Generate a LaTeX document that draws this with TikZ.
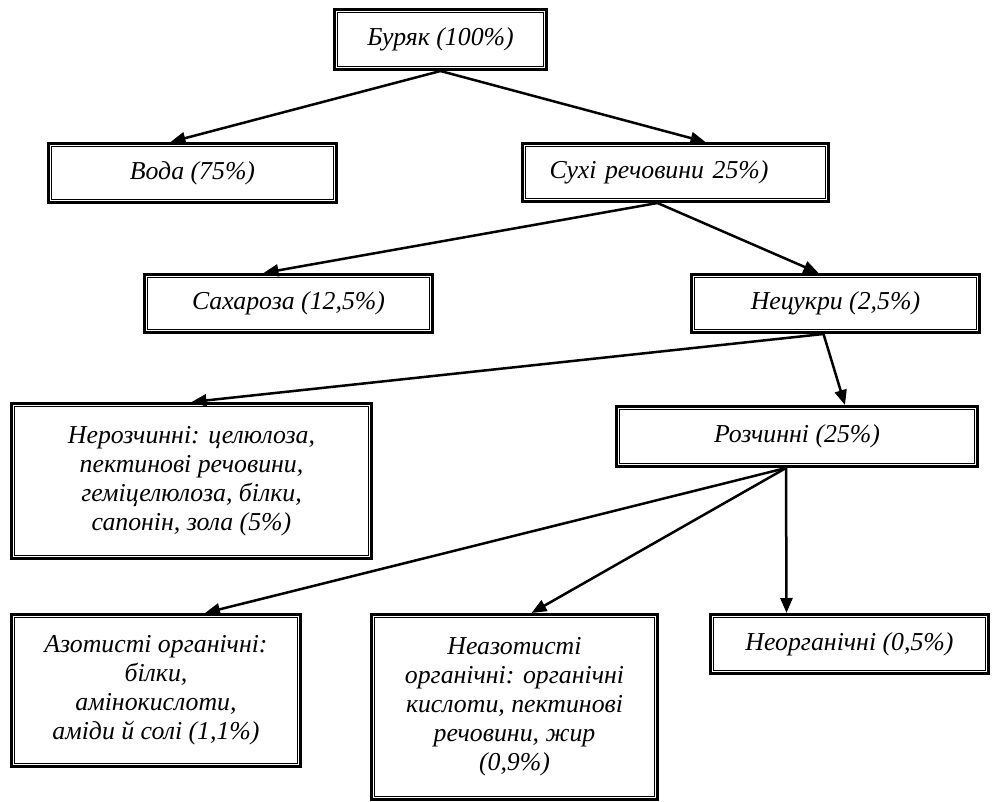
\documentclass[tikz,border=0pt]{standalone}
\usepackage{fontspec}
\setmainfont{Liberation Serif}
\usetikzlibrary{arrows.meta}
\tikzset{every picture/.style={line width=0.75pt}}

\begin{document}
\begin{tikzpicture}[x=1pt,y=-1pt,
  box/.style={draw,line width=3pt,align=center,inner sep=0pt,
    font=\fontsize{25.8}{29}\selectfont\itshape},
  inbox/.style={line width=1.5pt},
  arr/.style={-{Triangle[length=15pt,width=12pt]},line width=2.5pt}]
\useasboundingbox (0,0) rectangle (992,802);
% level 0
\node[box,minimum width=212,minimum height=60] (beet) at (440.5,39.5) {Буряк (100\%)};
% level 1
\node[box,minimum width=288,minimum height=59] (water) at (192.5,173) {Вода (75\%)};
\node[box,text width=252,align=left,inner xsep=27pt,minimum height=58] (dry) at (675.5,172.5) {Сухі речовини 25\%)};
% level 2
\node[box,minimum width=288,minimum height=58] (sucrose) at (288.5,303.5) {Сахароза (12,5\%)};
\node[box,minimum width=288,minimum height=58] (nonsugar) at (835.5,303.5) {Нецукри (2,5\%)};
% level 3
\node[box,minimum width=360,minimum height=155] (insol) at (191.5,481) {Нерозчинні: целюлоза,\\ пектинові речовини,\\ геміцелюлоза, білки,\\ сапонін, зола (5\%)};
\node[box,minimum width=361,minimum height=60] (sol) at (797,436.5) {Розчинні (25\%)};
% level 4
\node[box,minimum width=289,minimum height=152] (nitro) at (156,690.5) {Азотисті органічні:\\ білки,\\ амінокислоти,\\ аміди й солі (1,1\%)};
\node[box,minimum width=286,minimum height=185] (nonnitro) at (514.5,707) {Неазотисті\\ органічні: органічні\\ кислоти, пектинові\\ речовини, жир\\ (0,9\%)};
\node[box,minimum width=278,minimum height=59] (inorg) at (849.5,644) {Неорганічні (0,5\%)};
%
\foreach \n in {beet,water,dry,sucrose,nonsugar,insol,sol,nitro,nonnitro,inorg}
  \draw[inbox] ([shift={(4.7,4.7)}]\n.north west) rectangle ([shift={(-4.7,-4.7)}]\n.south east);
%
\draw[arr] (beet.south) -- ([xshift=-22]water.north);
\draw[arr] (beet.south) -- ([xshift=30]dry.north);
\draw[arr] ([xshift=-18]dry.south) -- ([xshift=-25]sucrose.north);
\draw[arr] ([xshift=-18]dry.south) -- ([xshift=-17]nonsugar.north);
\draw[arr] ([xshift=-12]nonsugar.south) -- (insol.north);
\draw[arr] ([xshift=-12]nonsugar.south) -- ([xshift=48]sol.north);
\draw[arr] ([xshift=-11]sol.south) -- ([xshift=49]nitro.north);
\draw[arr] ([xshift=-11]sol.south) -- ([xshift=17]nonnitro.north);
\draw[arr] ([xshift=-11]sol.south) -- ([xshift=-63]inorg.north);
\end{tikzpicture}
\end{document}
